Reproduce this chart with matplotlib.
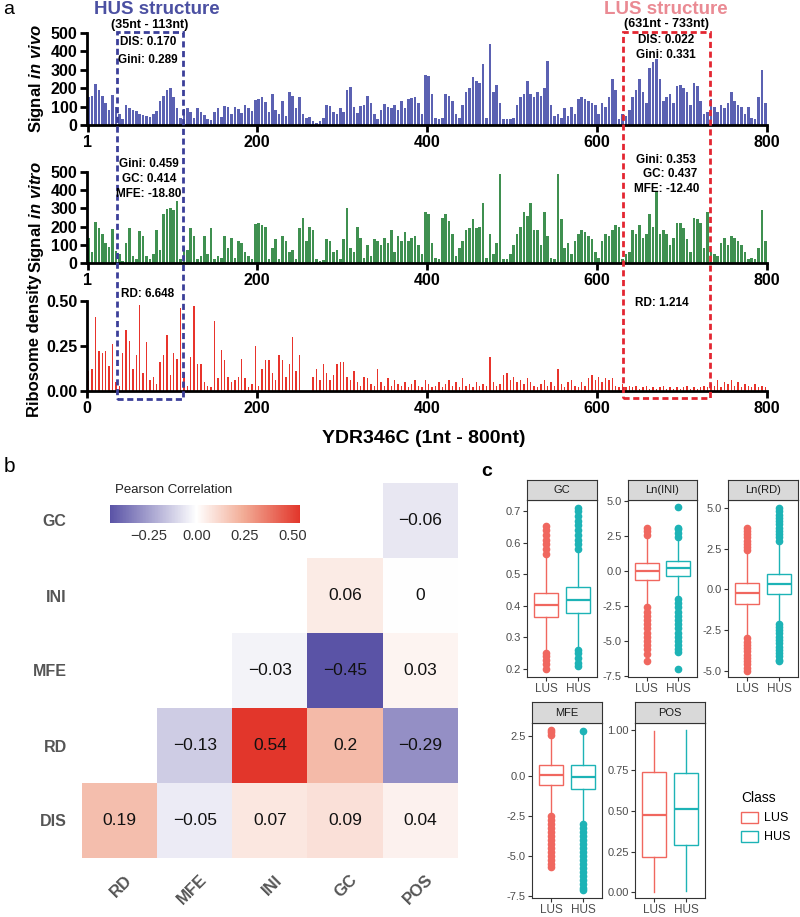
import numpy as np
import matplotlib
matplotlib.use('Agg')
import matplotlib.pyplot as plt
from matplotlib.patches import Rectangle, Patch
from matplotlib.colors import LinearSegmentedColormap, Normalize
from matplotlib.transforms import blended_transform_factory

plt.rcParams['font.family'] = ['Liberation Sans', 'DejaVu Sans']
plt.rcParams['mathtext.fontset'] = 'custom'
plt.rcParams['mathtext.it'] = 'Liberation Sans:italic:bold'
plt.rcParams['mathtext.rm'] = 'Liberation Sans:bold'

W, H = 800, 917

# ---- panel a: signals along YDR346C, one value per 4 nt ----
vivo = [150, 155, 225, 190, 160, 120, 80, 165,
        100, 60, 35, 110, 90, 80, 75, 60, 55, 50, 45, 60, 75, 130, 160, 190, 200, 150, 90, 40,
        85, 95, 70, 40, 90, 70, 55, 35, 25, 70, 95, 45, 105, 100, 60, 100, 85, 65, 110, 95, 75, 135,
        140, 150, 125, 70, 170, 80, 60, 130, 50, 180, 160, 90, 150, 60, 40, 45, 20, 10, 20, 40,
        110, 105, 70, 60, 90, 70, 190, 205, 100, 65, 105, 110, 160, 120, 60, 30, 80, 115, 100, 95, 110, 80,
        130, 90, 140, 145, 150, 120,
        60, 270, 265, 170, 40, 30, 40, 170, 160, 130, 60, 40, 110, 180, 200, 260, 240, 230, 330, 40,
        440, 180, 220, 120, 30, 30, 35, 40, 110, 150, 170, 240, 170, 150, 180, 160, 200, 350, 110, 50,
        60, 40, 90, 50, 100, 60, 140, 150, 140, 130, 120,
        110, 60, 120, 100, 150, 250, 190, 30, 60, 50, 80, 150, 190, 250, 180, 120, 310, 340, 360, 250,
        130, 150, 170, 120, 210, 220, 200, 180, 110, 230, 210, 130, 60, 70, 140, 100, 70, 110, 90, 120,
        180, 130, 110, 100, 60, 100, 40, 30, 150, 300, 120]

vitro = [135, 60, 225, 195, 160, 110, 90, 185,
         65, 50, 10, 110, 190, 40, 20, 175, 150, 40, 20, 50, 180, 70, 270, 295, 300, 290, 340, 20,
         90, 70, 190, 150, 20, 40, 150, 50, 190, 20, 40, 30, 150, 80, 140, 30, 120, 110, 60, 40, 20, 215,
         220, 210, 200, 20, 80, 130, 20, 150, 120, 60, 70, 20, 190, 250, 120, 200, 180, 20, 10, 15,
         130, 120, 60, 70, 20, 130, 300, 80, 60, 200, 140, 30, 100, 40, 130, 120, 100, 140, 110, 180, 60, 150,
         120, 170, 120, 140, 150, 100,
         50, 280, 270, 110, 30, 20, 250, 270, 230, 160, 40, 80, 120, 180, 190, 240, 190, 200, 330, 30,
         160, 50, 110, 490, 20, 20, 50, 100, 160, 200, 280, 260, 330, 180, 180, 100, 280, 150, 30, 20,
         490, 240, 80, 110, 50, 120, 160, 180, 170, 150, 130,
         60, 30, 120, 160, 150, 180, 210, 200, 20, 50, 60, 180, 160, 210, 140, 160, 270, 200, 390, 160,
         180, 160, 100, 140, 220, 220, 190, 130, 60, 250, 240, 220, 80, 280, 60, 50, 40, 110, 140, 100,
         150, 140, 120, 100, 60, 20, 30, 20, 80, 290, 120]

ribo = [0.11, 0.12, 0.41, 0.22, 0.21, 0.22, 0.14, 0.26, 0.05, 0.03, 0.21, 0.34, 0.28, 0.12, 0.20,
        0.48, 0.10, 0.27, 0.06, 0.08, 0.04, 0.16, 0.20, 0.31, 0.09,
        0.21, 0.18, 0.46, 0.10, 0.03, 0.19, 0.47, 0.15, 0.15, 0.05, 0.03, 0.02, 0.39, 0.07, 0.23,
        0.17, 0.08, 0.05, 0.06, 0.08, 0.18, 0.07, 0.02, 0.04, 0.25,
        0.03, 0.12, 0.17, 0.17, 0.10, 0.06, 0.20, 0.17, 0.08, 0.15, 0.30, 0.11, 0.20, 0.00, 0.00,
        0.00, 0.08, 0.12, 0.06, 0.15, 0.10, 0.06, 0.09, 0.15, 0.16,
        0.16, 0.08, 0.06, 0.11, 0.05, 0.03, 0.08, 0.07, 0.04, 0.03, 0.12, 0.05, 0.03, 0.07, 0.03, 0.06, 0.04,
        0.03, 0.05, 0.02, 0.04, 0.06, 0.03, 0.02, 0.06,
        0.04, 0.02, 0.03, 0.05, 0.02, 0.04, 0.06, 0.03, 0.05, 0.02, 0.07, 0.03, 0.04, 0.02, 0.05, 0.03, 0.04, 0.03,
        0.19,
        0.05, 0.03, 0.04, 0.09, 0.10, 0.06, 0.08, 0.05, 0.06, 0.04, 0.07, 0.05, 0.03, 0.02, 0.04, 0.06,
        0.03, 0.05, 0.03, 0.12, 0.04,
        0.02, 0.05, 0.06, 0.03, 0.02, 0.05, 0.03, 0.07, 0.09, 0.06, 0.08, 0.05, 0.07, 0.06, 0.07, 0.03,
        0.02, 0.04, 0.02, 0.03,
        0.02, 0.03, 0.01, 0.02, 0.03, 0.01, 0.02, 0.01, 0.02, 0.03, 0.01, 0.02, 0.01, 0.02, 0.01, 0.02,
        0.03, 0.01, 0.02, 0.01, 0.02, 0.03, 0.02,
        0.04, 0.03, 0.06, 0.02, 0.05, 0.04, 0.06, 0.03, 0.05, 0.02, 0.04, 0.03, 0.02, 0.04, 0.02, 0.03, 0.02]

hus_region = (35, 113)
lus_region = (631, 733)

# ---- panel b: pearson correlations (lower triangle) ----
nan = np.nan
corr_rows = ['GC', 'INI', 'MFE', 'RD', 'DIS']
corr_cols = ['RD', 'MFE', 'INI', 'GC', 'POS']
corr_gc = [nan, nan, nan, nan, -0.06]
corr_ini = [nan, nan, nan, 0.06, 0.0]
corr_mfe = [nan, nan, -0.03, -0.45, 0.03]
corr_rd = [nan, -0.13, 0.54, 0.2, -0.29]
corr_dis = [0.19, -0.05, 0.07, 0.09, 0.04]

# ---- panel c: boxplot stats [whislo, q1, med, q3, whishi] ----
classes = ['LUS', 'HUS']
gc_lus = [0.255, 0.365, 0.403, 0.441, 0.556]
gc_hus = [0.265, 0.379, 0.418, 0.459, 0.570]
gc_out_lus = [0.20, 0.215, 0.23, 0.24, 0.25, 0.565, 0.58, 0.595, 0.61, 0.625, 0.64, 0.652]
gc_out_hus = [0.21, 0.22, 0.235, 0.25, 0.26, 0.58, 0.595, 0.61, 0.625, 0.64, 0.655, 0.67, 0.685, 0.70, 0.711]
ini_lus = [-2.4, -0.62, 0.0, 0.58, 2.4]
ini_hus = [-1.9, -0.36, 0.19, 0.68, 2.2]
ini_out_lus = [2.6, 2.85, 3.1, -2.6, -2.9, -3.2, -3.5, -3.8, -4.1, -4.4, -4.7, -5.0, -5.3, -5.6, -5.9, -6.4]
ini_out_hus = [2.4, 2.7, 3.0, 3.1, 4.6, -2.0, -2.3, -2.6, -2.9, -3.2, -3.5, -3.8, -4.1, -4.4, -4.7,
               -5.0, -5.3, -5.6, -5.8, -7.0]
rd_lus = [-2.8, -0.90, -0.24, 0.40, 2.2]
rd_hus = [-2.0, -0.30, 0.32, 0.94, 2.9]
rd_out_lus = [2.4, 2.6, 2.8, 3.0, 3.2, 3.4, 3.6, 3.8, -3.0, -3.2, -3.4, -3.6, -3.8, -4.0, -4.2, -4.4,
              -4.6, -4.8, -5.0]
rd_out_hus = [3.0, 3.2, 3.4, 3.6, 3.8, 4.0, 4.2, 4.4, 4.6, 4.8, 5.0, -2.1, -2.3, -2.5, -2.7, -2.9, -3.1,
              -3.3, -3.5, -3.7, -3.9, -4.1, -4.3, -4.4]
mfe_lus = [-2.4, -0.57, 0.08, 0.69, 2.4]
mfe_hus = [-2.9, -0.80, -0.06, 0.65, 2.7]
mfe_out_lus = [2.55, 2.7, 2.85, -2.5, -2.75, -3.0, -3.25, -3.5, -3.75, -4.0, -4.25, -4.5, -4.75, -5.0,
               -5.25, -5.5, -5.7]
mfe_out_hus = [2.8, -3.0, -3.25, -3.5, -3.75, -4.0, -4.25, -4.5, -4.75, -5.0, -5.25, -5.5, -5.75, -6.0,
               -6.25, -6.5, -6.75, -7.0, -7.1]
pos_lus = [0.0, 0.214, 0.475, 0.743, 0.99]
pos_hus = [0.01, 0.293, 0.511, 0.731, 1.0]


def px(x0, y0, x1, y1):
    # pixel box (top-left origin) -> figure fraction rect
    return [x0 / W, 1 - y1 / H, (x1 - x0) / W, (y1 - y0) / H]


def ftext(x, y, s, **kw):
    kw.setdefault('ha', 'center')
    kw.setdefault('va', 'center')
    return fig.text(x / W, 1 - y / H, s, **kw)


fig = plt.figure(figsize=(W / 100, H / 100), dpi=100)

# ================= panel a =================
pos_nt = 4 * np.arange(len(vivo)) + 2
tracks = [
    (px(87, 33, 767, 125), vivo, '#5b61b2', r'Signal $\it{in\ vivo}$', [0, 100, 200, 300, 400, 500], None, 3.0),
    (px(87, 172, 767, 263), vitro, '#3f9050', r'Signal $\it{in\ vitro}$', [0, 100, 200, 300, 400, 500], None, 3.0),
    (px(87, 301, 767, 391), ribo, '#e8342c', 'Ribosome density', [0, 0.25, 0.5], ['0.00', '0.25', '0.50'], 1.6),
]
axes_a = []
for rect, vals, col, ylab, yt, ytl, bw in tracks:
    ax = fig.add_axes(rect)
    ax.bar(pos_nt, vals, width=bw, color=col, linewidth=0)
    ax.set_xlim(0, 800)
    ax.set_ylim(0, yt[-1])
    if ytl is None:
        ytl = [str(v) for v in yt]
    ax.set_yticks(yt, ytl, fontsize=11.5, fontweight='bold')
    if ylab == 'Ribosome density':
        ax.set_xticks([0, 200, 400, 600, 800], ['0', '200', '400', '600', '800'],
                      fontsize=11.5, fontweight='bold')
    else:
        ax.set_xticks([1, 200, 400, 600, 800], ['1', '200', '400', '600', '800'],
                      fontsize=11.5, fontweight='bold')
    ax.set_ylabel(ylab, fontsize=12, fontweight='bold', labelpad=3)
    for s in ['top', 'right']:
        ax.spines[s].set_visible(False)
    for s in ['left', 'bottom']:
        ax.spines[s].set_linewidth(2)
    ax.tick_params(width=2, length=5, pad=2)
    axes_a.append(ax)

ftext(424, 438, 'YDR346C (1nt - 800nt)', fontsize=14, fontweight='bold')

# dashed boxes for the two structures
trans = blended_transform_factory(axes_a[2].transData, fig.transFigure)
for (x0, x1), col, y_bot in [(hus_region, '#3b3f99', 399), (lus_region, '#e32631', 398)]:
    fig.add_artist(Rectangle((x0, 1 - y_bot / H), x1 - x0, (y_bot - 32) / H, transform=trans,
                             fill=False, edgecolor=col, linewidth=2, linestyle=(0, (2.2, 1.3))))

ftext(157, 10, 'HUS structure', fontsize=13.5, fontweight='bold', color='#4b50a2')
ftext(150, 25, '(35nt - 113nt)', fontsize=9, fontweight='bold')
ftext(666, 9, 'LUS structure', fontsize=13.5, fontweight='bold', color='#ea8a93')
ftext(666, 24, '(631nt - 733nt)', fontsize=9, fontweight='bold')
ann = dict(fontsize=8.5, fontweight='bold')
ftext(148, 42, 'DIS: 0.170', **ann)
ftext(148, 60, 'Gini: 0.289', **ann)
ftext(666, 40, 'DIS: 0.022', **ann)
ftext(666, 55, 'Gini: 0.331', **ann)
ftext(149, 164, 'Gini: 0.459', **ann)
ftext(149, 179, 'GC: 0.414', **ann)
ftext(149, 194, 'MFE: -18.80', **ann)
ftext(666, 160, 'Gini: 0.353', **ann)
ftext(670, 174, 'GC: 0.437', **ann)
ftext(667, 189, 'MFE: -12.40', **ann)
ftext(148, 294, 'RD: 6.648', **ann)
ftext(662, 303, 'RD: 1.214', **ann)

ftext(9, 10, 'a', fontsize=14)
ftext(9, 466, 'b', fontsize=15)
ftext(487, 471, 'c', fontsize=14, fontweight='bold')

# ================= panel b =================
mat = np.ma.masked_invalid(np.array([corr_gc, corr_ini, corr_mfe, corr_rd, corr_dis]))
cmap = LinearSegmentedColormap.from_list('pc', [(0, '#5a53a6'), (0.4545, '#ffffff'),
                                                (0.70, '#f2ad97'), (1.0, '#e2362b')])
cmap.set_bad('white')
norm = Normalize(vmin=-0.45, vmax=0.54)

axh = fig.add_axes(px(82, 483, 458, 858))
im = axh.imshow(mat, cmap=cmap, norm=norm, extent=(-0.5, 4.5, 4.5, -0.5), aspect='auto')
for i in range(len(corr_rows)):
    for j in range(len(corr_cols)):
        v = mat[i, j]
        if np.ma.is_masked(v):
            continue
        axh.text(j, i, '{:g}'.format(v).replace('-', '\u2212'), ha='center', va='center',
                 fontsize=12.5, color='#111111')
for s in axh.spines.values():
    s.set_visible(False)
axh.set_yticks(range(len(corr_rows)), corr_rows, fontsize=11.5, fontweight='bold', color='#555555')
axh.set_xticks([])
axh.tick_params(axis='y', length=0, pad=11)
for j, lab in enumerate(corr_cols):
    axh.annotate(lab, xy=(j, 0), xycoords=('data', 'axes fraction'), xytext=(7, -14),
                 textcoords='offset points', rotation=45, ha='right', va='center',
                 rotation_mode='anchor', fontsize=12, fontweight='bold', color='#555555')

cax = fig.add_axes(px(110, 505, 300, 523))
cb = fig.colorbar(im, cax=cax, orientation='horizontal')
cb.outline.set_visible(False)
cb.set_ticks([-0.25, 0, 0.25, 0.5], labels=['\u22120.25', '0.00', '0.25', '0.50'])
cax.tick_params(length=0, labelsize=10.5, colors='#333333', pad=4)
ftext(115, 490, 'Pearson Correlation', fontsize=9.5, ha='left', color='#222222')

# ================= panel c =================
lus_col, hus_col = '#f0675f', '#1db3b6'


def facet(box, strip_h, title, ylim, yticks, ylabels, lus, hus, out_lus, out_hus):
    x0, y0, x1, y1 = box
    ax = fig.add_axes(px(x0, y0, x1, y1))
    for k, (st, outs, col) in enumerate([(lus, out_lus, lus_col), (hus, out_hus, hus_col)]):
        stats = [dict(whislo=st[0], q1=st[1], med=st[2], q3=st[3], whishi=st[4], fliers=outs)]
        ax.bxp(stats, positions=[k + 1], widths=0.75, patch_artist=True, showcaps=False,
               boxprops=dict(facecolor='white', edgecolor=col, linewidth=1.0),
               whiskerprops=dict(color=col, linewidth=1.0),
               medianprops=dict(color=col, linewidth=1.6),
               flierprops=dict(marker='o', markerfacecolor=col, markeredgecolor=col, markersize=4.5))
    ax.set_xlim(0.4, 2.6)
    ax.set_ylim(*ylim)
    ax.set_xticks([1, 2], classes, fontsize=8.5, color='#4d4d4d')
    ax.set_yticks(yticks, ylabels, fontsize=8, color='#4d4d4d')
    ax.tick_params(length=3, width=0.8, color='#333333', pad=1.5)
    for s in ax.spines.values():
        s.set_linewidth(0.8)
        s.set_color('#333333')
    sax = fig.add_axes(px(x0, y0 - strip_h, x1, y0))
    sax.set_facecolor('#d9d9d9')
    sax.set_xticks([])
    sax.set_yticks([])
    for s in sax.spines.values():
        s.set_linewidth(0.8)
        s.set_color('#333333')
    sax.text(0.5, 0.5, title, ha='center', va='center', fontsize=8, color='#1a1a1a',
             transform=sax.transAxes)
    return ax


facet((527, 500, 597, 677), 20, 'GC', (0.175, 0.735), [0.2, 0.3, 0.4, 0.5, 0.6, 0.7],
      ['0.2', '0.3', '0.4', '0.5', '0.6', '0.7'], gc_lus, gc_hus, gc_out_lus, gc_out_hus)
facet((628, 500, 697, 677), 20, 'Ln(INI)', (-7.57, 5.07), [-7.5, -5, -2.5, 0, 2.5, 5],
      ['-7.5', '-5.0', '-2.5', '0.0', '2.5', '5.0'], ini_lus, ini_hus, ini_out_lus, ini_out_hus)
facet((728, 500, 798, 677), 20, 'Ln(RD)', (-5.37, 5.49), [-5, -2.5, 0, 2.5, 5],
      ['-5.0', '-2.5', '0.0', '2.5', '5.0'], rd_lus, rd_hus, rd_out_lus, rd_out_hus)
facet((532, 723, 602, 898), 21, 'MFE', (-7.6, 3.29), [-7.5, -5, -2.5, 0, 2.5],
      ['-7.5', '-5.0', '-2.5', '0.0', '2.5'], mfe_lus, mfe_hus, mfe_out_lus, mfe_out_hus)
facet((635, 723, 705, 898), 21, 'POS', (-0.036, 1.042), [0, 0.25, 0.5, 0.75, 1.0],
      ['0.00', '0.25', '0.50', '0.75', '1.00'], pos_lus, pos_hus, [], [])

handles = [Patch(facecolor='white', edgecolor=lus_col, linewidth=1.0, label='LUS'),
           Patch(facecolor='white', edgecolor=hus_col, linewidth=1.0, label='HUS')]
leg = fig.legend(handles=handles, title='Class', loc='upper left',
                 bbox_to_anchor=(730 / W, 1 - 780 / H), frameon=False, fontsize=9,
                 title_fontsize=10, handlelength=1.3, handleheight=1.0, labelspacing=0.5,
                 handletextpad=0.5)
leg._legend_box.align = 'left'

fig.savefig('out.png', dpi=100)
